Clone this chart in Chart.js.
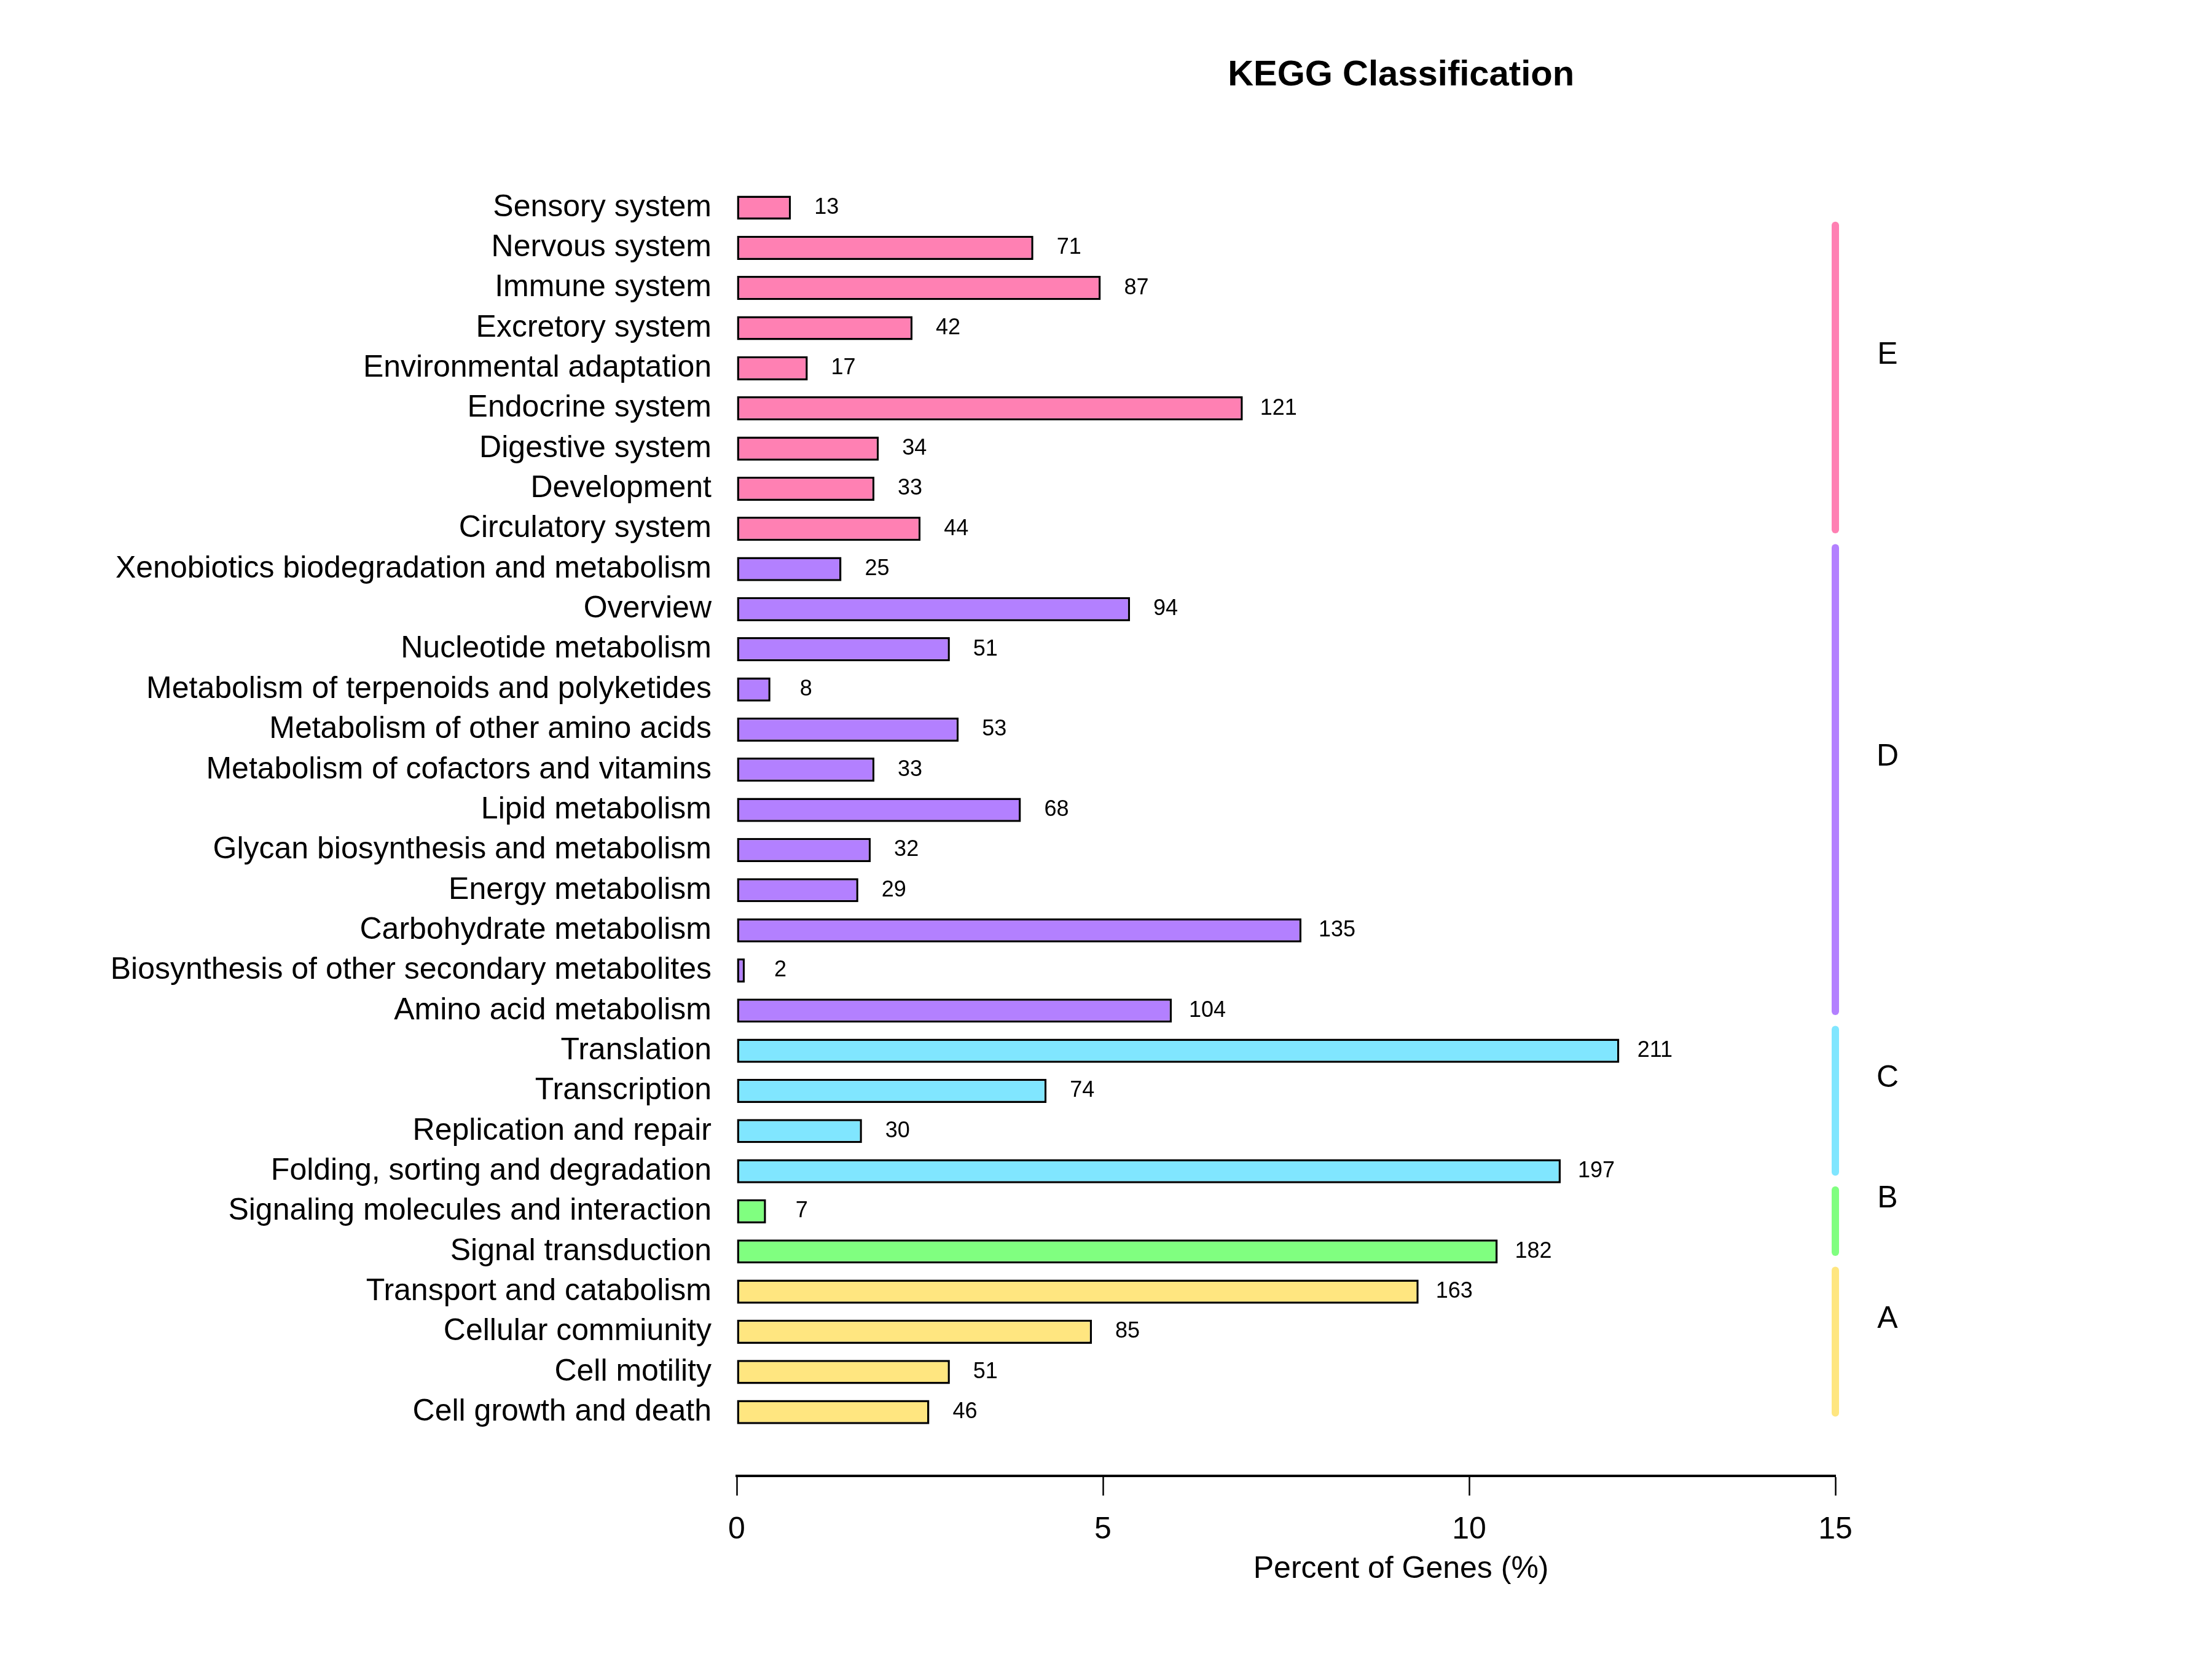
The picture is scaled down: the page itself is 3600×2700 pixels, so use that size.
<!DOCTYPE html>
<html>
<head>
<meta charset="utf-8">
<script src="https://cdn.jsdelivr.net/npm/chart.js@4.4.1/dist/chart.umd.min.js"></script>
<style>
  html, body { margin: 0; padding: 0; background: #fff; }
  canvas { display: block; }
</style>
</head>
<body>
<canvas id="myChart" width="3600" height="2700"></canvas>
<script>
const FONT = "'Liberation Sans', Arial, Helvetica, sans-serif";

// rows from bottom to top
const categories = [
  "Cell growth and death", "Cell motility", "Cellular commiunity", "Transport and catabolism",
  "Signal transduction", "Signaling molecules and interaction",
  "Folding, sorting and degradation", "Replication and repair", "Transcription", "Translation",
  "Amino acid metabolism", "Biosynthesis of other secondary metabolites", "Carbohydrate metabolism",
  "Energy metabolism", "Glycan biosynthesis and metabolism", "Lipid metabolism",
  "Metabolism of cofactors and vitamins", "Metabolism of other amino acids",
  "Metabolism of terpenoids and polyketides", "Nucleotide metabolism", "Overview",
  "Xenobiotics biodegradation and metabolism",
  "Circulatory system", "Development", "Digestive system", "Endocrine system",
  "Environmental adaptation", "Excretory system", "Immune system", "Nervous system", "Sensory system",
];
const geneCounts = [46, 51, 85, 163, 182, 7, 197, 30, 74, 211, 104, 2, 135, 29, 32, 68, 33, 53, 8, 51, 94, 25,
  44, 33, 34, 121, 17, 42, 87, 71, 13];
const percents = [2.63, 2.91, 4.85, 9.31, 10.39, 0.40, 11.25, 1.71, 4.23, 12.05, 5.94, 0.11, 7.71, 1.66, 1.83,
  3.88, 1.88, 3.03, 0.46, 2.91, 5.37, 1.43, 2.51, 1.88, 1.94, 6.91, 0.97, 2.40, 4.97, 4.05, 0.74];
const xTicks = [0, 5, 10, 15];

const groupNames = ["A", "B", "C", "D", "E"];
const groupSizes = [4, 2, 4, 12, 9];
const groupColors = ["#FFE680", "#80FF80", "#80E6FF", "#B380FF", "#FF80B3"];

const barColors = [];
groupSizes.forEach((n, k) => { for (let i = 0; i < n; i++) barColors.push(groupColors[k]); });

const overlay = {
  id: "overlay",
  afterDraw(chart) {
    const {ctx, scales: {x, y}} = chart;
    ctx.save();
    ctx.fillStyle = "#000";
    ctx.textAlign = "center";
    ctx.textBaseline = "middle";

    // counts next to the bars
    ctx.font = "36px " + FONT;
    categories.forEach((c, i) => {
      ctx.fillText(String(geneCounts[i]), x.getPixelForValue(percents[i]) + 58, y.getPixelForValue(i));
    });

    // group strips on the right
    const px = x.getPixelForValue(15);
    let start = 0;
    groupNames.forEach((g, k) => {
      const end = start + groupSizes[k] - 1;
      const lo = start - 0.02;
      const hi = Math.min(end + 0.53, 29.56);
      ctx.strokeStyle = groupColors[k];
      ctx.lineWidth = 12;
      ctx.lineCap = "round";
      ctx.beginPath();
      ctx.moveTo(px, y.getPixelForValue(lo));
      ctx.lineTo(px, y.getPixelForValue(hi));
      ctx.stroke();
      ctx.font = "50px " + FONT;
      ctx.fillText(g, px + 85, y.getPixelForValue((lo + hi) / 2 + 0.56));
      start = end + 1;
    });

    // titles
    const cx = x.getPixelForValue(9.07);
    ctx.textBaseline = "alphabetic";
    ctx.font = "bold 58px " + FONT;
    ctx.fillText("KEGG Classification", cx, chart.chartArea.top - 101);
    ctx.font = "50px " + FONT;
    ctx.fillText("Percent of Genes (%)", cx, chart.chartArea.bottom + 166);
    ctx.restore();
  },
};

const ctx = document.getElementById("myChart");

new Chart(ctx, {
  type: "bar",
  data: {
    datasets: [{
      data: categories.map((c, i) => ({x: percents[i], y: i})),
      backgroundColor: barColors,
      borderColor: "#000",
      borderWidth: 3.5,
      borderSkipped: false,
      barPercentage: 0.6,
      categoryPercentage: 1,
    }],
  },
  options: {
    indexAxis: "y",
    responsive: false,
    devicePixelRatio: 1,
    animation: false,
    layout: {padding: {top: 240, right: 613, left: 0, bottom: 0}},
    plugins: {
      legend: {display: false},
      tooltip: {enabled: false},
      title: {display: false},
    },
    scales: {
      x: {
        type: "linear",
        position: "bottom",
        offset: false,
        min: xTicks[0],
        max: xTicks[xTicks.length - 1],
        ticks: {stepSize: 5, padding: 26, color: "#000", font: {size: 50, family: FONT}},
        grid: {display: true, offset: false, drawOnChartArea: false, drawTicks: true, tickLength: 32,
          tickWidth: 2.5, tickColor: "#000", color: "#000"},
        border: {display: true, color: "#000", width: 4},
        afterFit: s => { s.height = 298; },
      },
      y: {
        type: "linear",
        offset: false,
        min: -1.59,
        max: 31.5,
        ticks: {
          stepSize: 1,
          autoSkip: false,
          includeBounds: false,
          padding: 41,
          color: "#000",
          font: {size: 50, family: FONT},
          callback: v => (Number.isInteger(v) && categories[v] !== undefined ? categories[v] : ""),
        },
        grid: {display: false, offset: false, drawTicks: false},
        border: {display: false},
        afterFit: s => { s.width = 1199; },
      },
    },
  },
  plugins: [overlay],
});
</script>
</body>
</html>
